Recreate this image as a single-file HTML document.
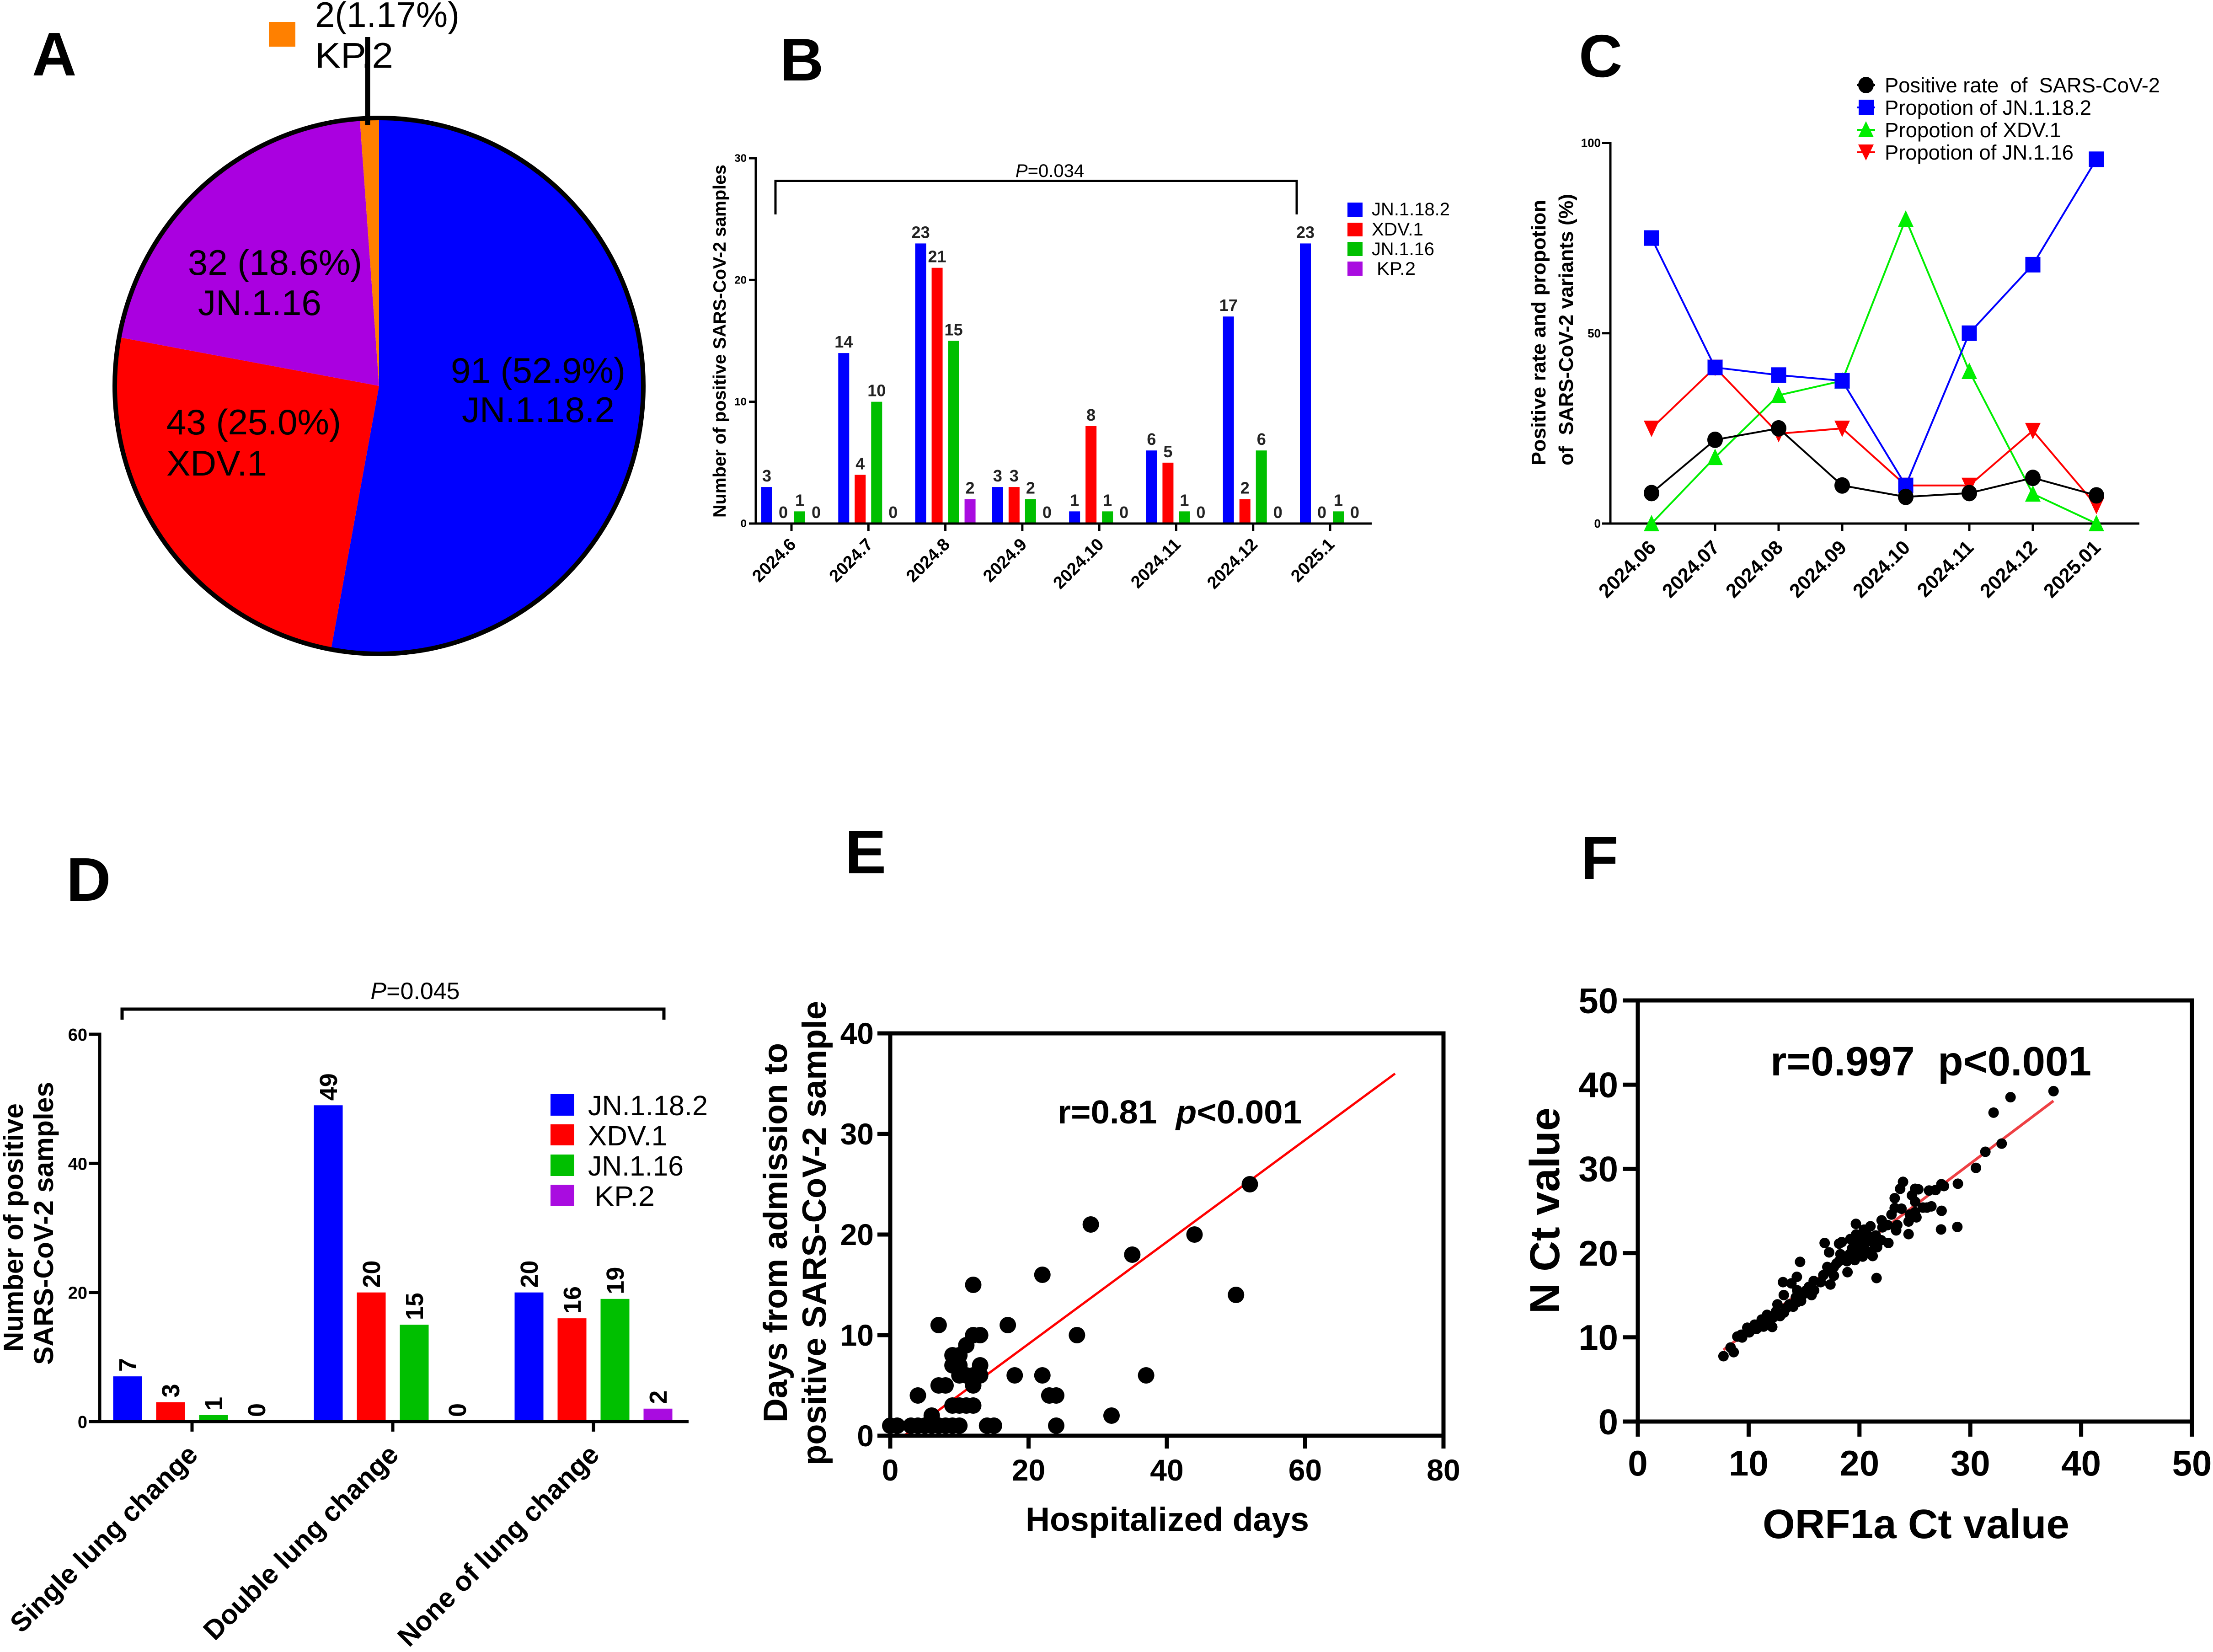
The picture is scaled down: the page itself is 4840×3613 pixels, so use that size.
<!DOCTYPE html>
<html lang="en">
<head>
<meta charset="utf-8">
<title>SARS-CoV-2 variant figure panels A–F</title>
<style>
html,body{margin:0;padding:0;background:#fff;}
svg{display:block;}
text{font-family:"Liberation Sans",Arial,sans-serif;white-space:pre;fill:#000;}
.b{font-weight:bold;}
</style>
</head>
<body>
<svg id="figure" xmlns="http://www.w3.org/2000/svg" width="4840" height="3613" viewBox="0 0 4840 3613">
<rect x="0" y="0" width="4840" height="3613" fill="#fff"/>

<!-- panel letters -->
<text class="b" x="70" y="165" font-size="135">A</text>
<text class="b" x="1706" y="176" font-size="132">B</text>
<text class="b" x="3453" y="168" font-size="132">C</text>
<text class="b" x="145" y="1970" font-size="135">D</text>
<text class="b" x="1848" y="1910" font-size="135">E</text>
<text class="b" x="3457" y="1923" font-size="135">F</text>

<!-- PANEL A -->
<g id="panel-a"></g>
<g>
  <text x="986" y="837" font-size="78" textLength="382" lengthAdjust="spacingAndGlyphs">91 (52.9%)</text>
  <text x="1010" y="923" font-size="78" textLength="334" lengthAdjust="spacingAndGlyphs">JN.1.18.2</text>
  <text x="411" y="601" font-size="78" textLength="381" lengthAdjust="spacingAndGlyphs">32 (18.6%)</text>
  <text x="433" y="689" font-size="78" textLength="270" lengthAdjust="spacingAndGlyphs">JN.1.16</text>
  <text x="364" y="950" font-size="78" textLength="382" lengthAdjust="spacingAndGlyphs">43 (25.0%)</text>
  <text x="364" y="1040" font-size="78" textLength="220" lengthAdjust="spacingAndGlyphs">XDV.1</text>
  <text x="689" y="59" font-size="78" textLength="316" lengthAdjust="spacingAndGlyphs">2(1.17%)</text>
  <text x="689" y="148" font-size="78" textLength="171" lengthAdjust="spacingAndGlyphs">KP.2</text>
  <rect x="588" y="48" width="58" height="54" fill="#ff8000"/>
  <line x1="804" y1="81" x2="804" y2="273" stroke="#000" stroke-width="11"/>
</g>

<!-- PANEL B -->
<g id="panel-b-marks"></g>
<g id="panel-b-axes"></g>
<text class="b" transform="translate(1587,1132) rotate(-90)" font-size="39" textLength="772" lengthAdjust="spacingAndGlyphs">Number of positive SARS-CoV-2 samples</text>
<path d="M1696 469V395.5H2836V469" fill="none" stroke="#000" stroke-width="5"/>
<text x="2296" y="387" font-size="40" text-anchor="middle"><tspan font-style="italic">P</tspan>=0.034</text>
<g>
  <rect x="2947" y="443" width="33" height="31" fill="#0000ff"/>
  <rect x="2947" y="487" width="33" height="30" fill="#ff0000"/>
  <rect x="2947" y="529" width="33" height="31" fill="#00bf00"/>
  <rect x="2947" y="572" width="33" height="31" fill="#a90ce0"/>
  <text x="3000" y="471" font-size="40" textLength="171" lengthAdjust="spacingAndGlyphs">JN.1.18.2</text>
  <text x="3000" y="515" font-size="40" textLength="113" lengthAdjust="spacingAndGlyphs">XDV.1</text>
  <text x="3000" y="558" font-size="40" textLength="137" lengthAdjust="spacingAndGlyphs">JN.1.16</text>
  <text x="3011" y="601" font-size="40" textLength="85" lengthAdjust="spacingAndGlyphs">KP.2</text>
</g>

<!-- PANEL C -->
<g id="panel-c-axes"></g>
<g id="panel-c-marks"></g>
<text class="b" transform="translate(3380,1018) rotate(-90)" font-size="44" textLength="581" lengthAdjust="spacingAndGlyphs">Positive rate and propotion</text>
<text class="b" transform="translate(3440,1018) rotate(-90)" font-size="44" textLength="594" lengthAdjust="spacingAndGlyphs">of  SARS-CoV-2 variants (%)</text>
<g>
  <line x1="4062" y1="186" x2="4101" y2="186" stroke="#000" stroke-width="4"/>
  <ellipse cx="4081" cy="186" rx="17" ry="18" fill="#000"/>
  <line x1="4062" y1="235" x2="4101" y2="235" stroke="#0000ff" stroke-width="4"/>
  <rect x="4065" y="218" width="33" height="34" fill="#0000ff"/>
  <line x1="4062" y1="284" x2="4101" y2="284" stroke="#00ee00" stroke-width="4"/>
  <polygon points="4081,265 4098,300 4064,300" fill="#00ee00"/>
  <line x1="4062" y1="333" x2="4101" y2="333" stroke="#ff0000" stroke-width="4"/>
  <polygon points="4081,351 4098,316 4064,316" fill="#ff0000"/>
  <text x="4122" y="202" font-size="45" textLength="602" lengthAdjust="spacingAndGlyphs">Positive rate  of  SARS-CoV-2</text>
  <text x="4122" y="251" font-size="45" textLength="452" lengthAdjust="spacingAndGlyphs">Propotion of JN.1.18.2</text>
  <text x="4122" y="300" font-size="45" textLength="386" lengthAdjust="spacingAndGlyphs">Propotion of XDV.1</text>
  <text x="4122" y="349" font-size="45" textLength="413" lengthAdjust="spacingAndGlyphs">Propotion of JN.1.16</text>
</g>

<!-- PANEL D -->
<g id="panel-d-marks"></g>
<g id="panel-d-axes"></g>
<text class="b" transform="translate(50,2956) rotate(-90)" font-size="60" textLength="543" lengthAdjust="spacingAndGlyphs">Number of positive</text>
<text class="b" transform="translate(116,2985) rotate(-90)" font-size="60" textLength="619" lengthAdjust="spacingAndGlyphs">SARS-CoV-2 samples</text>
<path d="M267 2230V2207H1452V2230" fill="none" stroke="#000" stroke-width="7"/>
<text x="908" y="2185" font-size="52" text-anchor="middle"><tspan font-style="italic">P</tspan>=0.045</text>
<g>
  <rect x="1204" y="2393" width="52" height="47" fill="#0000ff"/>
  <rect x="1204" y="2459" width="52" height="46" fill="#ff0000"/>
  <rect x="1204" y="2525" width="52" height="47" fill="#00bf00"/>
  <rect x="1204" y="2591" width="52" height="47" fill="#a90ce0"/>
  <text x="1286" y="2439" font-size="61" textLength="262" lengthAdjust="spacingAndGlyphs">JN.1.18.2</text>
  <text x="1286" y="2505" font-size="61" textLength="173" lengthAdjust="spacingAndGlyphs">XDV.1</text>
  <text x="1286" y="2571" font-size="61" textLength="209" lengthAdjust="spacingAndGlyphs">JN.1.16</text>
  <text x="1300" y="2637" font-size="61" textLength="132" lengthAdjust="spacingAndGlyphs">KP.2</text>
</g>

<!-- PANEL E -->
<g id="panel-e-marks"></g>
<g id="panel-e-axes"></g>
<text class="b" x="2243" y="3348" font-size="73" textLength="620" lengthAdjust="spacingAndGlyphs">Hospitalized days</text>
<text class="b" transform="translate(1721,3111) rotate(-90)" font-size="73" textLength="830" lengthAdjust="spacingAndGlyphs">Days from admission to</text>
<text class="b" transform="translate(1806,3205) rotate(-90)" font-size="73" textLength="1016" lengthAdjust="spacingAndGlyphs">positive SARS-CoV-2 sample</text>
<text class="b" x="2313" y="2457" font-size="72" textLength="534" lengthAdjust="spacingAndGlyphs">r=0.81  <tspan font-style="italic">p</tspan>&lt;0.001</text>

<!-- PANEL F -->
<g id="panel-f-marks"></g>
<g id="panel-f-axes"></g>
<text class="b" x="3855" y="3364" font-size="90" textLength="671" lengthAdjust="spacingAndGlyphs">ORF1a Ct value</text>
<text class="b" transform="translate(3410,2873) rotate(-90)" font-size="92" textLength="451" lengthAdjust="spacingAndGlyphs">N Ct value</text>
<text class="b" x="3872" y="2352" font-size="90" textLength="702" lengthAdjust="spacingAndGlyphs">r=0.997  p&lt;0.001</text>
</svg>

<script>
// ---------- Panel A data ----------
const pieShares = [91, 43, 36, 2];

// ---------- Panel B data ----------
const monthLabels = ['2024.6','2024.7','2024.8','2024.9','2024.10','2024.11','2024.12','2025.1'];
const monthJN1182 = [3,14,23,3,1,6,17,23];
const monthXDV1 = [0,4,21,3,8,5,2,0];
const monthJN116 = [1,10,15,2,1,1,6,1];
const monthKP2 = [0,0,2,0,0,0,0,0];
const monthYTicks = [0,10,20,30];

// ---------- Panel C data ----------
const rateMonths = ['2024.06','2024.07','2024.08','2024.09','2024.10','2024.11','2024.12','2025.01'];
const positiveRate = [8,22,25,10,7,8,12,7.4];
const propJN1182 = [75,41,39,37.5,10,50,68,95.7];
const propXDV1 = [0,17.4,33.7,37.5,80,40,7.8,0];
const propJN116 = [25,41,23.6,25,10,10,24.4,4.7];
const rateYTicks = [0,50,100];

// ---------- Panel D data ----------
const lungLabels = ['Single lung change','Double lung change','None of lung change'];
const lungJN1182 = [7,49,20];
const lungXDV1 = [3,20,16];
const lungJN116 = [1,15,19];
const lungKP2 = [0,0,2];
const lungYTicks = [0,20,40,60];

// ---------- Panel E data ----------
const hospDays = [0,1,3,4,5,6,7,8,9,10,14,15,24,6,32,9,10,11,12,4,23,24,7,8,12,10,11,12,13,18,22,37,9,10,13,9,10,11,12,13,27,7,17,50,12,22,35,44,29,52];
const daysToPositive = [1,1,1,1,1,1,1,1,1,1,1,1,1,2,2,3,3,3,3,4,4,4,5,5,5,6,6,6,6,6,6,6,7,7,7,8,8,9,10,10,10,11,11,14,15,16,18,20,21,25];
const hospFitX = [2,73];
const hospFitY = [0,36];
const hospXTicks = [0,20,40,60,80];
const hospYTicks = [0,10,20,30,40];

// ---------- Panel F data ----------
const orfCt = [7.73,8.37,8.65,8.98,9.41,9.34,10.05,9.88,10.54,10.71,11.35,11.18,11.66,12.13,12.01,12.48,12.84,13.19,12.6,13.17,13.1,13.86,14.35,14.64,14.02,14.38,14.73,14.26,14.38,14.85,15.2,15.68,15.91,15.44,15.87,16.5,16.74,17.38,17.69,17.1,17.69,18.16,18.92,16.86,17.26,18.16,18.4,18.28,18.87,19.58,19.34,19.18,19.7,19.68,20.41,20.99,20.29,21.19,20.05,20.53,21,21.47,21.59,20.65,21.95,22.61,21.54,22.07,22,22.54,23.41,23.31,24.43,22.89,23.18,23.79,23.18,23.67,23.93,24.43,25.14,24.55,25.02,25.02,24.74,25.02,25.31,26.09,26.49,25.73,26.28,26.87,27.39,27.62,27.41,27.36,28.83,28.88,30.51,31.36,32.83,32.1,33.63,37.51,10.83,11.77,12.25,13.43,13.67,14.61,15.32,17.45,17.93,18.52,19.11,20.05,20.29,20.76,21.24,19.82,20.41,19.39,21,21.47];
const nCt = [7.76,8.79,8.24,10.09,9.98,10.31,10.59,11.14,11.5,11,11.28,12.11,12.67,11.23,12.11,13.08,12.53,12.94,13.91,15.02,16.55,16.41,17.18,18.96,13.64,14.19,14.33,14.75,15.58,15.02,15.58,15.02,15.58,15.99,16.69,16.55,17.38,16.27,17.32,18.35,18.35,19.04,17.74,21.2,20.09,21.12,21.31,19.87,19.04,19.18,20.56,21.67,22.22,23.47,22.78,23.19,19.59,19.65,20.7,21.25,21.81,22.09,20.7,20.15,21.53,21.2,17.04,23.06,23.89,23.33,23.33,22.7,22.25,24.58,25.35,25.27,26.52,27.63,28.46,23.75,24.25,24.58,24.86,26.1,26.85,27.63,27.57,25.41,25.55,25.41,27.43,27.49,28.18,27.96,25.02,22.81,23.11,28.24,30.12,32.03,33,36.68,38.51,39.23,11.14,11.84,12.39,13.5,13.91,14.6,15.3,17.79,18.76,19.32,19.87,20.15,21.81,22.09,21.25,21.25,20.7,19.73,20.15,21.53];
const ctFitX = [7.73,37.5];
const ctFitY = [8.51,38.07];
const ctXTicks = [0,10,20,30,40,50];
const ctYTicks = [0,10,20,30,40,50];

// ---------- helpers ----------
const SVGNS = 'http://www.w3.org/2000/svg';
function add(parent, tag, attrs, txt) {
  const n = document.createElementNS(SVGNS, tag);
  for (const k in attrs) n.setAttribute(k, attrs[k]);
  if (txt !== undefined) n.textContent = txt;
  parent.appendChild(n);
  return n;
}
function linear(d0, d1, r0, r1) {
  return function (v) { return r0 + (v - d0) * (r1 - r0) / (d1 - d0); };
}
function grp(id) { return document.getElementById(id); }
const paletteFour = ['#0000ff', '#ff0000', '#00bf00', '#a90ce0'];
let el;

// ---------- Panel A ----------
(function () {
  const g = grp('panel-a');
  const cx = 829, cy = 844, rx = 578, ry = 586;
  const fills = ['#0000ff', '#ff0000', '#aa00e0', '#ff8000'];
  const total = pieShares.reduce(function (a, b) { return a + b; }, 0);
  let cum = 0;
  pieShares.forEach(function (v, i) {
    const a0 = cum / total * 2 * Math.PI;
    cum += v;
    const a1 = cum / total * 2 * Math.PI;
    const d = 'M' + cx + ' ' + cy +
      'L' + (cx + rx * Math.sin(a0)) + ' ' + (cy - ry * Math.cos(a0)) +
      'A' + rx + ' ' + ry + ' 0 ' + (a1 - a0 > Math.PI ? 1 : 0) + ' 1 ' +
      (cx + rx * Math.sin(a1)) + ' ' + (cy - ry * Math.cos(a1)) + 'Z';
    el = add(g, 'path', { d: d, fill: fills[i] });
    
    
  });
  el = add(g, 'ellipse', { cx: cx, cy: cy, rx: rx, ry: ry, fill: 'none', stroke: '#000', 'stroke-width': 10 });
  
  
})();

// ---------- Panel B ----------
(function () {
  const marks = grp('panel-b-marks'), axes = grp('panel-b-axes');
  const bx = linear(0, 7, 1731, 2909);
  const by = linear(0, 30, 1145, 346);
  const series = [monthJN1182, monthXDV1, monthJN116, monthKP2];
  series.forEach(function (vals, s) {
    vals.forEach(function (v, c) {
      const cxx = bx(c) + (s - 1.5) * 36;
      el = add(marks, 'rect', { x: cxx - 12, y: by(v), width: 24, height: by(0) - by(v), fill: paletteFour[s] });
      
      
      el = add(marks, 'text', { x: cxx, y: by(v) - 12, 'font-size': 36, 'font-weight': 'bold', 'text-anchor': 'middle', style: 'fill:#222' }, String(v));
      
      
    });
  });
  el = add(axes, 'line', { x1: 1653, y1: by(30) - 2.5, x2: 1653, y2: by(0), stroke: '#000', 'stroke-width': 5 });
  
  
  el = add(axes, 'line', { x1: 1638, y1: by(0), x2: 3000, y2: by(0), stroke: '#000', 'stroke-width': 5 });
  
  
  monthYTicks.forEach(function (t) {
    el = add(axes, 'line', { x1: 1638, y1: by(t), x2: 1653, y2: by(t), stroke: '#000', 'stroke-width': 5 });
    
    
    el = add(axes, 'text', { x: 1633, y: by(t) + 8, 'font-size': 24, 'font-weight': 'bold', 'text-anchor': 'end' }, String(t));
    
    
  });
  monthLabels.forEach(function (lab, i) {
    el = add(axes, 'line', { x1: bx(i), y1: by(0), x2: bx(i), y2: by(0) + 16, stroke: '#000', 'stroke-width': 5 });
    
    
    el = add(axes, 'text', { transform: 'translate(' + (bx(i) + 12) + ',' + (by(0) + 48) + ') rotate(-45)', 'font-size': 38, 'font-weight': 'bold', 'text-anchor': 'end' }, lab);
    
    
  });
})();

// ---------- Panel C ----------
(function () {
  const marks = grp('panel-c-marks'), axes = grp('panel-c-axes');
  const cxs = linear(0, 7, 3612, 4585);
  const cys = linear(0, 100, 1145, 312.5);
  el = add(axes, 'line', { x1: 3522, y1: cys(100) - 2.5, x2: 3522, y2: cys(0), stroke: '#000', 'stroke-width': 5 });
  
  
  el = add(axes, 'line', { x1: 3504, y1: cys(0), x2: 4679, y2: cys(0), stroke: '#000', 'stroke-width': 5 });
  
  
  rateYTicks.forEach(function (t) {
    el = add(axes, 'line', { x1: 3504, y1: cys(t), x2: 3522, y2: cys(t), stroke: '#000', 'stroke-width': 5 });
    
    
    el = add(axes, 'text', { x: 3501, y: cys(t) + 9, 'font-size': 26, 'font-weight': 'bold', 'text-anchor': 'end' }, String(t));
    
    
  });
  rateMonths.forEach(function (lab, i) {
    el = add(axes, 'line', { x1: cxs(i), y1: cys(0), x2: cxs(i), y2: cys(0) + 16, stroke: '#000', 'stroke-width': 5 });
    
    
    el = add(axes, 'text', { transform: 'translate(' + (cxs(i) + 12) + ',' + (cys(0) + 55) + ') rotate(-45)', 'font-size': 43, 'font-weight': 'bold', 'text-anchor': 'end' }, lab);
    
    
  });
  const lines = [
    { vals: propXDV1, color: '#00ee00', shape: 'up' },
    { vals: propJN116, color: '#ff0000', shape: 'down' },
    { vals: propJN1182, color: '#0000ff', shape: 'square' },
    { vals: positiveRate, color: '#000000', shape: 'circle' }
  ];
  lines.forEach(function (ln) {
    const pts = ln.vals.map(function (v, i) { return cxs(i) + ',' + cys(v); }).join(' ');
    el = add(marks, 'polyline', { points: pts, fill: 'none', stroke: ln.color, 'stroke-width': 4 });
    
    
  });
  lines.forEach(function (ln) {
    ln.vals.forEach(function (v, i) {
      const x = cxs(i), y = cys(v);
      if (ln.shape === 'circle') {
        el = add(marks, 'ellipse', { cx: x, cy: y, rx: 17, ry: 18, fill: ln.color });
      } else if (ln.shape === 'square') {
        el = add(marks, 'rect', { x: x - 16.5, y: y - 17, width: 33, height: 34, fill: ln.color });
      } else if (ln.shape === 'up') {
        el = add(marks, 'polygon', { points: x + ',' + (y - 19) + ' ' + (x + 17) + ',' + (y + 17) + ' ' + (x - 17) + ',' + (y + 17), fill: ln.color });
      } else {
        el = add(marks, 'polygon', { points: x + ',' + (y + 19) + ' ' + (x + 17) + ',' + (y - 17) + ' ' + (x - 17) + ',' + (y - 17), fill: ln.color });
      }
      
      
    });
  });
})();

// ---------- Panel D ----------
(function () {
  const marks = grp('panel-d-marks'), axes = grp('panel-d-axes');
  const dx = linear(0, 2, 420, 1298);
  const dy = linear(0, 60, 3109, 2262);
  const series = [lungJN1182, lungXDV1, lungJN116, lungKP2];
  series.forEach(function (vals, s) {
    vals.forEach(function (v, c) {
      const mid = dx(c) + (s - 1.5) * 94;
      el = add(marks, 'rect', { x: mid - 31.5, y: dy(v), width: 63, height: dy(0) - dy(v), fill: paletteFour[s] });
      
      
      el = add(marks, 'text', { transform: 'translate(' + (mid + 19) + ',' + (dy(v) - 10) + ') rotate(-90)', 'font-size': 54, 'font-weight': 'bold' }, String(v));
      
      
    });
  });
  el = add(axes, 'line', { x1: 218, y1: dy(60) - 3.5, x2: 218, y2: dy(0), stroke: '#000', 'stroke-width': 7 });
  
  
  el = add(axes, 'line', { x1: 194, y1: dy(0), x2: 1506, y2: dy(0), stroke: '#000', 'stroke-width': 7 });
  
  
  lungYTicks.forEach(function (t) {
    el = add(axes, 'line', { x1: 194, y1: dy(t), x2: 218, y2: dy(t), stroke: '#000', 'stroke-width': 7 });
    
    
    el = add(axes, 'text', { x: 191, y: dy(t) + 14, 'font-size': 38, 'font-weight': 'bold', 'text-anchor': 'end' }, String(t));
    
    
  });
  lungLabels.forEach(function (lab, i) {
    el = add(axes, 'line', { x1: dx(i), y1: dy(0), x2: dx(i), y2: dy(0) + 22, stroke: '#000', 'stroke-width': 7 });
    
    
    el = add(axes, 'text', { transform: 'translate(' + (dx(i) + 16) + ',' + (dy(0) + 76) + ') rotate(-45)', 'font-size': 60, 'font-weight': 'bold', 'text-anchor': 'end' }, lab);
    
    
  });
})();

// ---------- Scatter panels ----------
function scatter(cfg) {
  const m = cfg.marks, a = cfg.axes;
  el = add(m, 'line', { x1: cfg.sx(cfg.fitX[0]), y1: cfg.sy(cfg.fitY[0]), x2: cfg.sx(cfg.fitX[1]), y2: cfg.sy(cfg.fitY[1]), stroke: cfg.fitColor, 'stroke-width': cfg.fitWidth });
  
  
  cfg.xs.forEach(function (v, i) {
    el = add(m, 'circle', { cx: cfg.sx(v), cy: cfg.sy(cfg.ys[i]), r: cfg.r, fill: '#000' });
    
    
  });
  const L = cfg.sx(cfg.xTicks[0]), R = cfg.sx(cfg.xTicks[cfg.xTicks.length - 1]);
  const B = cfg.sy(cfg.yTicks[0]), T = cfg.sy(cfg.yTicks[cfg.yTicks.length - 1]);
  el = add(a, 'rect', { x: L, y: T, width: R - L, height: B - T, fill: 'none', stroke: '#000', 'stroke-width': 9 });
  
  
  cfg.xTicks.forEach(function (t) {
    el = add(a, 'line', { x1: cfg.sx(t), y1: B, x2: cfg.sx(t), y2: B + cfg.tick, stroke: '#000', 'stroke-width': 9 });
    
    
    el = add(a, 'text', { x: cfg.sx(t), y: cfg.xLabelY, 'font-size': cfg.fs, 'font-weight': 'bold', 'text-anchor': 'middle' }, String(t));
    
    
  });
  cfg.yTicks.forEach(function (t) {
    el = add(a, 'line', { x1: L - cfg.tick, y1: cfg.sy(t), x2: L, y2: cfg.sy(t), stroke: '#000', 'stroke-width': 9 });
    
    
    el = add(a, 'text', { x: cfg.yLabelX, y: cfg.sy(t) + cfg.fs * 0.35, 'font-size': cfg.fs, 'font-weight': 'bold', 'text-anchor': 'end' }, String(t));
    
    
  });
}
scatter({
  marks: grp('panel-e-marks'), axes: grp('panel-e-axes'),
  sx: linear(0, 80, 1947, 3157), sy: linear(0, 40, 3140, 2260),
  xs: hospDays, ys: daysToPositive, fitX: hospFitX, fitY: hospFitY,
  xTicks: hospXTicks, yTicks: hospYTicks,
  r: 18, fitColor: '#ff0000', fitWidth: 5, tick: 28, fs: 66, xLabelY: 3238, yLabelX: 1911
});
scatter({
  marks: grp('panel-f-marks'), axes: grp('panel-f-axes'),
  sx: linear(0, 50, 3582, 4794), sy: linear(0, 50, 3109, 2188),
  xs: orfCt, ys: nCt, fitX: ctFitX, fitY: ctFitY,
  xTicks: ctXTicks, yTicks: ctYTicks,
  r: 11.5, fitColor: '#ee4044', fitWidth: 6, tick: 33, fs: 78, xLabelY: 3227, yLabelX: 3539
});
</script>
</body>
</html>
